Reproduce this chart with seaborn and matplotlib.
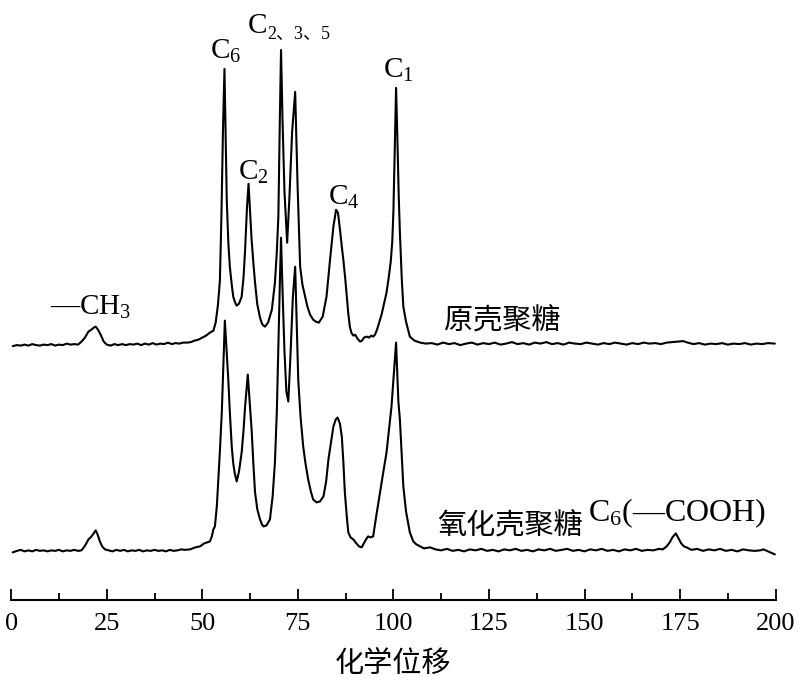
import numpy as np
import pandas as pd
import matplotlib
matplotlib.use("Agg")
import matplotlib.pyplot as plt
import seaborn as sns
from matplotlib.ticker import MultipleLocator

# ---------------- data ----------------
# Chemical shift (ppm) and intensity (arbitrary units) of the original chitosan
top_shift = [0.4, 1.5, 2.5, 3.5, 4.5, 5.5, 6.5, 7.5, 8.5, 9.5, 10.5, 11.5, 12.5, 13.5,
             14.5, 15.5, 16.5, 17.5, 18.4, 19.3, 20.2, 21.0, 21.6, 22.1, 22.7, 23.4, 24.2,
             25.0, 26.0, 27.0, 28.0, 29.0, 30.0, 31.0, 32.0, 33.0, 34.0, 35.0, 36.0, 37.0,
             38.0, 39.0, 40.0, 41.0, 42.0, 43.0, 44.0, 45.0, 46.0, 47.0, 48.0, 49.0, 50.0,
             51.0, 52.0, 52.9, 53.5, 54.1, 54.6, 55.0, 55.4, 55.8, 56.1, 56.4, 56.8, 57.2,
             57.7, 58.1, 58.6, 59.0, 59.6, 60.3, 60.8, 61.2, 61.7, 62.1, 62.5, 62.9, 63.4,
             63.8, 64.4, 65.1, 65.6, 66.0, 66.4, 67.2, 68.2, 69.0, 69.5, 69.9, 70.3, 70.6,
             71.0, 71.5, 72.2, 72.8, 73.5, 74.3, 74.9, 75.6, 76.2, 76.9, 77.5, 78.2, 79.0,
             79.7, 80.5, 81.5, 82.5, 83.5, 84.3, 85.0, 85.5, 86.0, 86.5, 86.9, 87.4, 87.8,
             88.2, 88.6, 89.0, 89.5, 90.0, 90.6, 91.3, 91.8, 92.3, 93.0, 93.6, 94.2, 94.7,
             95.2, 95.8, 96.5, 96.9, 97.5, 98.2, 98.7, 99.3, 99.7, 100.0, 100.4, 100.7,
             101.0, 101.4, 101.7, 102.2, 102.6, 103.3, 104.3, 105.5, 107.0, 108.5,
             110.0, 111.5, 113.0, 114.5, 116.0, 117.5, 119.0, 120.5, 122.0, 123.5, 125.0,
             126.5, 128.0, 129.5, 131.0, 132.5, 134.0, 135.5, 137.0, 138.5, 140.0, 141.5,
             143.0, 144.5, 146.0, 147.5, 149.0, 150.5, 152.0, 153.5, 155.0, 156.5, 158.0,
             159.5, 161.0, 162.5, 164.0, 165.5, 167.0, 168.5, 170.0, 171.5, 173.0, 174.5,
             175.8, 177.0, 178.5, 180.0, 181.5, 183.0, 184.5, 186.0, 187.5, 189.0, 190.5,
             192.0, 193.5, 195.0, 196.5, 198.0, 199.8]
top_int = [0.5, 1.5, 1.0, 2.0, 1.0, 2.5, 1.5, 1.0, 2.0, 1.5, 2.5, 1.0, 2.0, 1.5,
           3.0, 2.0, 2.5, 2.0, 5.0, 9.0, 15.0, 17.0, 19.0, 20.0, 17.0, 12.0, 5.0,
           2.0, 1.0, 2.5, 1.5, 2.5, 1.5, 2.5, 2.0, 3.0, 1.5, 3.0, 2.0, 3.5,
           2.0, 3.0, 2.5, 4.0, 2.5, 3.5, 3.0, 4.0, 4.0, 4.5, 6.0, 7.0, 9.0,
           11.0, 14.0, 16.0, 24.0, 42.0, 66.0, 130.0, 215.0, 278.0, 215.0, 147.0, 105.0, 80.0,
           62.0, 50.0, 44.0, 41.0, 43.0, 50.0, 70.0, 97.0, 140.0, 163.0, 135.0, 107.0, 82.0,
           64.0, 42.0, 29.0, 23.0, 21.0, 20.0, 24.0, 37.0, 64.0, 95.0, 130.0, 230.0, 297.0,
           225.0, 155.0, 104.0, 150.0, 215.0, 255.0, 165.0, 80.0, 62.0, 50.0, 40.0, 32.0, 27.0,
           25.0, 24.0, 30.0, 50.0, 90.0, 120.0, 137.0, 134.0, 118.0, 100.0, 87.0, 68.0, 50.0,
           33.0, 20.0, 14.0, 11.0, 12.0, 8.0, 5.0, 6.0, 9.0, 10.0, 9.0, 11.0, 10.0,
           12.0, 18.0, 27.0, 32.0, 42.0, 54.0, 67.0, 85.0, 105.0, 135.0, 205.0, 259.0,
           215.0, 150.0, 114.0, 67.0, 40.0, 25.0, 10.0, 6.0, 4.0, 3.0,
           3.5, 2.0, 4.0, 2.5, 3.5, 1.5, 3.0, 4.0, 2.0, 3.5, 2.5,
           4.0, 2.0, 3.0, 4.5, 2.5, 3.5, 2.0, 4.0, 3.0, 4.5, 2.5,
           3.5, 2.0, 4.0, 3.0, 2.5, 4.0, 3.0, 2.0, 3.5, 2.5, 4.0,
           3.0, 2.0, 3.5, 2.5, 4.0, 3.0, 3.5, 2.5, 4.0, 4.5, 5.0,
           5.5, 4.0, 2.5, 3.5, 2.0, 3.0, 2.5, 3.5, 2.0, 3.0, 2.5,
           3.5, 2.0, 3.0, 2.5, 3.5, 3.0]

# Oxidised chitosan
bot_shift = [0.4, 1.5, 2.5, 3.5, 4.5, 5.5, 6.5, 7.5, 8.5, 9.5, 10.5, 11.5, 12.5, 13.5,
             14.5, 15.5, 16.5, 17.5, 18.4, 19.2, 19.8, 20.2, 20.8, 21.4, 22.1, 22.6, 23.2,
             23.8, 24.5, 25.5, 26.5, 27.5, 28.5, 29.5, 30.5, 31.5, 32.5, 33.5, 34.5, 35.5,
             36.5, 37.5, 38.5, 39.5, 40.5, 41.5, 42.5, 43.5, 44.5, 45.5, 46.8, 47.5, 48.2,
             49.4, 50.5, 51.3, 52.0, 52.5, 52.9, 53.3, 53.8, 54.2, 54.6, 55.1, 55.5, 55.9,
             56.3, 56.8, 57.2, 57.7, 58.1, 58.5, 59.0, 59.6, 60.3, 60.8, 61.2, 61.9, 62.4,
             62.9, 63.4, 63.8, 64.4, 65.1, 65.6, 66.0, 66.8, 67.7, 68.4, 69.0, 69.5, 69.9,
             70.3, 70.6, 71.0, 71.5, 72.0, 72.5, 73.0, 73.7, 74.3, 74.7, 75.1, 75.7, 76.4,
             77.0, 77.7, 78.4, 79.0, 79.9, 80.8, 81.7, 82.4, 83.0, 83.7, 84.3, 84.9, 85.4,
             86.0, 86.5, 86.9, 87.3, 87.8, 88.2, 88.8, 89.5, 90.3, 91.0, 91.7, 92.4, 93.0,
             93.4, 94.0, 94.7, 95.5, 96.5, 97.3, 98.2, 98.8, 99.5, 100.0, 100.4, 100.7,
             101.0, 101.3, 101.7, 102.2, 102.6, 103.3, 104.3, 105.2, 106.0, 107.0, 108.0,
             109.6, 111.0, 112.5, 114.0, 115.5, 117.0, 118.5, 120.0, 121.5, 123.0, 124.5,
             126.0, 127.5, 129.0, 130.5, 132.0, 133.5, 135.0, 136.5, 138.0, 139.5, 141.0,
             142.5, 144.0, 145.5, 147.0, 148.5, 150.0, 151.5, 153.0, 154.5, 156.0, 157.5,
             159.0, 160.5, 162.0, 163.5, 165.0, 166.5, 168.0, 169.5, 170.5, 171.5, 172.3,
             173.0, 173.9, 174.6, 175.3, 176.0, 176.7, 178.0, 179.5, 181.0, 182.5, 184.0,
             185.5, 187.0, 188.5, 190.0, 191.5, 193.0, 194.5, 196.0, 196.8, 198.0, 199.8]
bot_int = [-1.0, 0.5, 1.5, 0.0, 1.0, 0.0, 1.5, 0.5, 1.0, 0.0, 1.0, 0.5, 1.5, 0.0,
           1.0, 0.5, 1.5, 0.5, 1.0, 5.0, 9.0, 12.0, 14.0, 17.0, 21.0, 17.0, 10.0,
           5.0, 2.0, 1.0, 0.0, 1.5, 0.5, 1.5, 0.0, 1.0, 0.5, 1.5, 0.0, 1.0,
           0.5, 1.5, 0.5, 1.0, 0.0, 1.5, 0.5, 1.0, 2.0, 1.5, 2.0, 3.0, 4.0,
           5.0, 8.0, 9.0, 10.0, 15.0, 22.0, 25.0, 45.0, 72.0, 100.0, 139.0, 185.0, 231.0,
           205.0, 172.0, 140.0, 105.0, 88.0, 78.0, 70.0, 80.0, 99.0, 122.0, 145.0, 177.0, 150.0,
           122.0, 85.0, 59.0, 42.0, 32.0, 27.0, 25.0, 26.0, 32.0, 55.0, 89.0, 140.0, 205.0,
           270.0, 314.0, 260.0, 200.0, 160.0, 150.0, 190.0, 255.0, 285.0, 230.0, 172.0, 135.0, 105.0,
           88.0, 72.0, 60.0, 52.0, 49.0, 50.0, 55.0, 70.0, 92.0, 110.0, 125.0, 132.0, 134.0,
           128.0, 115.0, 90.0, 59.0, 35.0, 19.0, 14.0, 12.0, 8.0, 5.0, 4.0, 9.0, 13.0,
           15.0, 14.0, 15.0, 35.0, 59.0, 78.0, 99.0, 120.0, 145.0, 172.0, 195.0, 209.0,
           180.0, 150.0, 132.0, 95.0, 65.0, 40.0, 19.0, 10.0, 7.0, 5.0, 3.0,
           4.0, 2.0, 1.0, 2.5, 0.5, 1.5, 0.0, 2.0, 1.0, 2.5, 0.5,
           1.5, 0.0, 2.0, 1.0, 2.5, 0.5, 1.5, 0.0, 2.0, 1.0, 2.5,
           0.5, 1.5, 2.5, 0.5, 1.5, 0.0, 2.0, 1.0, 2.5, 0.5, 1.5,
           0.0, 2.0, 1.0, 2.5, 0.5, 1.5, 1.0, 2.5, 2.0, 5.0, 9.0,
           14.0, 18.0, 13.0, 8.0, 5.0, 4.0, 1.5, 2.5, 0.5, 2.0, 1.0,
           2.5, 0.5, 1.5, 0.0, 2.0, 1.0, 0.5, 1.0, 2.0, 0.0, -3.0]

sample_names = ["原壳聚糖", "氧化壳聚糖"]
x_ticks = [0, 25, 50, 75, 100, 125, 150, 175, 200]
x_label = "化学位移"

# ---------------- layout constants ----------------
TOP_OFFSET = 205.0   # vertical offset of the upper spectrum

df = pd.concat([
    pd.DataFrame({"shift": top_shift, "y": np.array(top_int) + TOP_OFFSET, "sample": sample_names[0]}),
    pd.DataFrame({"shift": bot_shift, "y": np.array(bot_int), "sample": sample_names[1]}),
], ignore_index=True)

sns.set_theme(style="white")
plt.rcParams["font.family"] = ["Liberation Serif", "Noto Sans CJK SC", "DejaVu Sans"]
plt.rcParams["mathtext.fontset"] = "custom"
plt.rcParams["mathtext.rm"] = "Liberation Serif"
plt.rcParams["mathtext.it"] = "Liberation Serif:italic"
plt.rcParams["mathtext.bf"] = "Liberation Serif:bold"
plt.rcParams["text.color"] = "black"
plt.rcParams["axes.labelcolor"] = "black"
plt.rcParams["xtick.color"] = "black"
plt.rcParams["xtick.labelcolor"] = "black"

fig = plt.figure(figsize=(8.0, 6.94), dpi=100)
ax = fig.add_axes([0.014, 0.135, 0.9555, 0.865])

sns.lineplot(data=df, x="shift", y="y", hue="sample", units="sample", estimator=None,
             palette={sample_names[0]: "black", sample_names[1]: "black"},
             linewidth=1.5, legend=False, sort=True, ax=ax)

ax.set_xlim(0, 200)
ax.set_ylim(-49, 552)
for s in ["left", "right", "top"]:
    ax.spines[s].set_visible(False)
ax.spines["bottom"].set_linewidth(1.5)
ax.spines["bottom"].set_color("black")
ax.set_yticks([])
ax.set_xticks(x_ticks)
ax.set_xticklabels([str(t) for t in x_ticks])
ax.xaxis.set_minor_locator(MultipleLocator(12.5))
ax.tick_params(axis="x", which="major", direction="in", length=8, width=1.3,
               color="black", labelcolor="black", labelsize=19, pad=9, bottom=True)
ax.tick_params(axis="x", which="minor", direction="in", length=5, width=1.3,
               color="black", bottom=True)
ax.set_ylabel("")
ax.set_xlabel(x_label, fontsize=21, family=["Noto Sans CJK SC"], weight="medium",
              labelpad=10, color="black")

serif = ["Liberation Serif", "Noto Sans CJK SC"]
lab = dict(fontsize=21, family=serif, ha="left", va="baseline", color="black")
ax.text(52.0, 493, r"C$\mathregular{_6}$", **lab)
ax.text(59.3, 372, r"C$\mathregular{_2}$", **lab)
ax.text(82.9, 347, r"C$\mathregular{_4}$", **lab)
ax.text(97.3, 474, r"C$\mathregular{_1}$", **lab)
ax.text(10.2, 237, r"—CH$\mathregular{_3}$", **lab)
ax.text(151.0, 30, r"C$\mathregular{_6}$(—COOH)", fontsize=23, family=serif,
        ha="left", va="baseline", color="black")
ax.text(61.9, 519, "C", **lab)
ax.text(67.0, 513, "2、3、5", fontsize=13, family=serif, ha="left", va="baseline", color="black")

cjk = dict(fontsize=21, family=["Noto Sans CJK SC"], ha="center", va="center",
           color="black", weight="medium")
ax.text(128.4, 230, sample_names[0], **cjk)
ax.text(130.5, 25, sample_names[1], **cjk)

fig.savefig("out.png", dpi=100)
